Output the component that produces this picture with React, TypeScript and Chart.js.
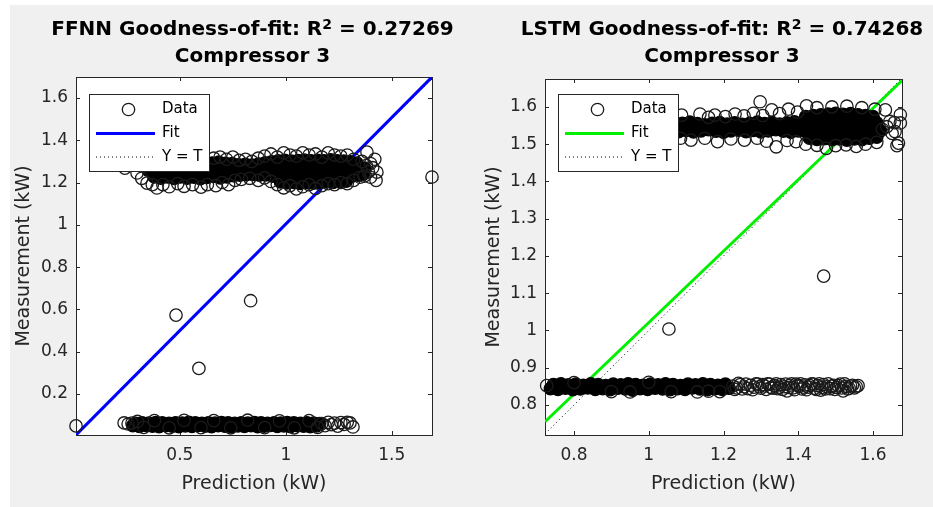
import React, { useEffect, useRef } from 'react';
import { Chart, registerables } from 'chart.js';

Chart.register(...registerables);

// ---------------- data ----------------
type Pt = [number, number];

const FFNN_TITLE_PRE = 'FFNN Goodness-of-fit: R';
const FFNN_TITLE_POST = ' = 0.27269';
const LSTM_TITLE_PRE = 'LSTM Goodness-of-fit: R';
const LSTM_TITLE_POST = ' = 0.74268';
const TITLE_SUP = '2';
const SUBTITLE = 'Compressor 3';
const X_LABEL = 'Prediction (kW)';
const Y_LABEL = 'Measurement (kW)';
const SERIES_LABELS = ['Data', 'Fit', 'Y = T'];

const FFNN_X_RANGE = [0.01, 1.69];
const FFNN_Y_RANGE = [0.006, 1.699];
const FFNN_X_TICKS = [0.5, 1, 1.5];
const FFNN_Y_TICKS = [0.2, 0.4, 0.6, 0.8, 1, 1.2, 1.4, 1.6];

const LSTM_X_RANGE = [0.7225, 1.6775];
const LSTM_Y_RANGE = [0.7195, 1.675];
const LSTM_X_TICKS = [0.8, 1, 1.2, 1.4, 1.6];
const LSTM_Y_TICKS = [0.8, 0.9, 1, 1.1, 1.2, 1.3, 1.4, 1.5, 1.6];

// fit lines (end points) and the Y = T reference line
const FFNN_FIT_X = [0.01, 1.69];
const FFNN_FIT_Y = [0.006, 1.699];
const FFNN_IDENTITY = [0.01, 1.69];
const LSTM_FIT_X = [0.7225, 1.6775];
const LSTM_FIT_Y = [0.755, 1.671];
const LSTM_IDENTITY = [0.7225, 1.6775];

// FFNN: heavily over-plotted upper band (core of the band)
const FFNN_HIGH_DENSE: Pt[] = [
  [0.38,1.226],[0.41,1.221],[0.44,1.227],[0.472,1.219],[0.503,1.226],[0.534,1.221],[0.566,1.225],[0.597,1.218],[0.628,1.224],[0.659,1.229],[0.69,1.222],[0.721,1.227],[0.752,1.232],[0.783,1.235],[0.814,1.237],[0.845,1.238],[0.876,1.235],[0.907,1.236],[0.938,1.23],[0.969,1.224],[1.0,1.218],[1.031,1.221],[1.062,1.215],[1.093,1.219],[1.124,1.222],[1.155,1.217],[1.186,1.221],[1.217,1.226],[1.248,1.222],[1.279,1.227],[1.31,1.229],[1.341,1.235],[1.366,1.24],
  [0.35,1.258],[0.381,1.265],[0.412,1.26],[0.443,1.266],[0.474,1.259],[0.505,1.264],[0.536,1.261],[0.567,1.267],[0.598,1.26],[0.629,1.263],[0.66,1.266],[0.691,1.26],[0.722,1.265],[0.753,1.268],[0.784,1.27],[0.815,1.266],[0.846,1.271],[0.877,1.268],[0.908,1.272],[0.939,1.266],[0.97,1.262],[1.001,1.259],[1.032,1.264],[1.063,1.26],[1.094,1.263],[1.125,1.258],[1.156,1.262],[1.187,1.265],[1.218,1.259],[1.249,1.263],[1.28,1.261],[1.311,1.266],[1.342,1.262],[1.372,1.268],
  [0.652,1.292],[0.684,1.296],[0.715,1.291],[0.747,1.289],[0.778,1.284],[0.809,1.286],[0.84,1.282],[0.871,1.287],[0.902,1.293],[0.933,1.298],[0.964,1.302],[0.995,1.305],[1.026,1.301],[1.057,1.304],[1.088,1.306],[1.119,1.303],[1.15,1.305],[1.181,1.302],[1.212,1.307],[1.243,1.303],[1.274,1.301],[1.305,1.298],[1.336,1.292],
  [0.975,1.203],[1.005,1.198],[1.037,1.2],[1.068,1.196],[1.099,1.201],[1.13,1.197],[1.161,1.199],[1.192,1.203],[1.223,1.2],[1.254,1.204],[1.285,1.206],
];
// FFNN: individual circles around the edge of the upper band
const FFNN_HIGH_SPREAD: Pt[] = [
  [0.241,1.268],[0.298,1.245],[0.32,1.22],[0.345,1.197],[0.37,1.19],[0.392,1.174],[0.42,1.19],[0.45,1.18],[0.49,1.195],[0.52,1.182],[0.56,1.19],[0.6,1.178],[0.63,1.19],[0.67,1.185],[0.7,1.2],[0.73,1.19],[0.76,1.21],[0.79,1.215],[0.83,1.22],[0.87,1.21],[0.9,1.222],[0.93,1.205],[0.96,1.19],[0.99,1.175],[1.02,1.185],[1.05,1.17],[1.08,1.18],[1.11,1.19],[1.14,1.172],[1.17,1.185],[1.2,1.195],[1.23,1.19],[1.26,1.2],[1.29,1.195],[1.32,1.21],[1.35,1.225],
  [0.66,1.315],[0.69,1.32],[0.72,1.31],[0.75,1.32],[0.78,1.305],[0.81,1.31],[0.84,1.3],[0.87,1.315],[0.9,1.325],[0.93,1.335],[0.96,1.32],[0.99,1.34],[1.02,1.33],[1.05,1.325],[1.08,1.34],[1.11,1.33],[1.14,1.335],[1.17,1.32],[1.2,1.34],[1.23,1.33],[1.26,1.325],[1.29,1.33],[1.32,1.31],[1.383,1.344],
  [1.36,1.3],[1.38,1.28],[1.4,1.29],[1.39,1.25],[1.41,1.27],[1.43,1.249],[1.426,1.21],[1.4,1.225],[1.42,1.31],[1.37,1.23],
];
// FFNN: over-plotted lower band
const FFNN_LOW_DENSE: Pt[] = [
  [0.278,0.05],[0.309,0.047],[0.34,0.051],[0.371,0.048],[0.402,0.046],[0.433,0.05],[0.464,0.048],[0.495,0.045],[0.526,0.049],[0.557,0.047],[0.588,0.051],[0.619,0.048],[0.65,0.046],[0.681,0.05],[0.712,0.048],[0.743,0.045],[0.774,0.049],[0.805,0.047],[0.836,0.05],[0.867,0.046],[0.898,0.048],[0.929,0.051],[0.96,0.047],[0.991,0.049],[1.022,0.046],[1.053,0.05],[1.084,0.048],[1.115,0.045],[1.146,0.049],
  [0.29,0.061],[0.322,0.064],[0.354,0.062],[0.386,0.065],[0.417,0.063],[0.449,0.061],[0.48,0.064],[0.511,0.062],[0.542,0.066],[0.573,0.063],[0.604,0.061],[0.635,0.064],[0.666,0.062],[0.697,0.065],[0.728,0.063],[0.759,0.061],[0.79,0.064],[0.821,0.062],[0.852,0.065],[0.883,0.063],[0.914,0.061],[0.945,0.064],[0.976,0.062],[1.007,0.065],[1.038,0.063],[1.069,0.061],[1.1,0.064],[1.131,0.062],[1.16,0.06],
];
const FFNN_LOW_SPREAD: Pt[] = [
  [0.237,0.063],[0.256,0.058],[0.274,0.062],[0.3,0.07],[0.33,0.042],[0.38,0.074],[0.45,0.04],[0.52,0.075],[0.6,0.041],[0.66,0.074],[0.74,0.04],[0.82,0.076],[0.9,0.041],[0.97,0.073],[1.04,0.04],[1.11,0.074],[1.15,0.042],[1.17,0.06],[1.185,0.05],[1.2,0.066],[1.215,0.055],[1.23,0.062],[1.245,0.048],[1.26,0.065],[1.275,0.056],[1.29,0.066],[1.303,0.063],[1.317,0.044],
];
const FFNN_OUTLIERS: Pt[] = [[0.01,0.049],[0.482,0.573],[0.59,0.321],[0.834,0.641],[1.69,1.226]];

// LSTM: over-plotted upper band
const LSTM_HIGH_DENSE: Pt[] = [
  [0.98,1.534],[1.0,1.537],[1.02,1.533],[1.04,1.536],[1.06,1.538],[1.08,1.534],[1.1,1.537],[1.12,1.533],[1.14,1.536],[1.16,1.539],[1.18,1.535],[1.2,1.532],[1.22,1.536],[1.24,1.538],[1.26,1.534],[1.28,1.537],[1.3,1.533],[1.32,1.536],[1.34,1.539],[1.36,1.535],[1.38,1.532],[1.4,1.536],[1.42,1.534],[1.44,1.531],[1.46,1.535],[1.48,1.532],[1.5,1.534],[1.52,1.53],[1.54,1.533],[1.56,1.531],[1.58,1.535],[1.6,1.532],[1.62,1.536],
  [0.99,1.555],[1.01,1.558],[1.03,1.554],[1.05,1.557],[1.07,1.553],[1.09,1.556],[1.11,1.559],[1.13,1.555],[1.15,1.552],[1.17,1.556],[1.19,1.558],[1.21,1.554],[1.23,1.557],[1.25,1.553],[1.27,1.556],[1.29,1.559],[1.31,1.555],[1.33,1.558],[1.35,1.554],[1.37,1.557],[1.39,1.56],[1.41,1.558],[1.43,1.561],[1.45,1.558],[1.47,1.562],[1.49,1.559],[1.51,1.563],[1.53,1.56],[1.55,1.562],[1.57,1.558],[1.59,1.561],[1.61,1.557],
  [1.43,1.516],[1.45,1.513],[1.47,1.515],[1.49,1.512],[1.51,1.514],[1.53,1.511],[1.55,1.514],[1.57,1.512],[1.59,1.516],[1.61,1.519],
  [1.42,1.574],[1.44,1.577],[1.46,1.579],[1.48,1.581],[1.5,1.583],[1.52,1.58],[1.54,1.582],[1.56,1.579],[1.58,1.577],[1.6,1.574],
];
const LSTM_HIGH_SPREAD: Pt[] = [
  [1.0,1.575],[1.04,1.58],[1.088,1.578],[1.137,1.581],[1.16,1.572],[1.177,1.578],[1.205,1.574],[1.231,1.581],[1.255,1.576],[1.28,1.583],[1.305,1.577],[1.329,1.592],[1.35,1.582],[1.374,1.594],[1.398,1.586],[1.422,1.603],[1.45,1.598],[1.49,1.6],[1.53,1.602],[1.57,1.598],[1.605,1.594],
  [1.0,1.518],[1.05,1.513],[1.085,1.516],[1.113,1.511],[1.15,1.516],[1.184,1.507],[1.22,1.514],[1.256,1.511],[1.29,1.516],[1.315,1.508],[1.341,1.493],[1.37,1.51],[1.394,1.507],[1.42,1.5],[1.45,1.497],[1.475,1.489],[1.5,1.496],[1.528,1.498],[1.555,1.494],[1.58,1.5],[1.61,1.505],
  [1.625,1.54],[1.633,1.592],[1.637,1.547],[1.645,1.561],[1.651,1.529],[1.657,1.558],[1.659,1.534],[1.664,1.496],[1.668,1.503],[1.673,1.557],[1.673,1.579],
];
// LSTM: lower band
const LSTM_LOW_DENSE: Pt[] = [
  [0.737,0.844],[0.757,0.842],[0.777,0.845],[0.797,0.841],[0.817,0.843],[0.837,0.846],[0.857,0.842],[0.877,0.844],[0.897,0.841],[0.917,0.845],[0.937,0.843],[0.957,0.84],[0.977,0.844],[0.997,0.842],[1.017,0.845],[1.037,0.843],[1.057,0.841],[1.077,0.844],[1.097,0.842],[1.117,0.846],[1.137,0.843],[1.157,0.841],[1.177,0.844],[1.197,0.842],[1.215,0.845],
  [0.745,0.855],[0.765,0.857],[0.785,0.854],[0.805,0.856],[0.825,0.853],[0.845,0.857],[0.865,0.855],[0.885,0.852],[0.905,0.856],[0.925,0.854],[0.945,0.857],[0.965,0.855],[0.985,0.853],[1.005,0.856],[1.025,0.854],[1.045,0.857],[1.065,0.855],[1.085,0.852],[1.105,0.856],[1.125,0.854],[1.145,0.857],[1.165,0.855],[1.185,0.853],[1.205,0.856],
];
const LSTM_LOW_SPREAD: Pt[] = [
  [0.727,0.852],[0.8,0.86],[0.9,0.836],[0.95,0.835],[1.0,0.861],[1.06,0.836],[1.13,0.835],[1.16,0.837],[1.19,0.836],
  [1.225,0.851],[1.235,0.846],[1.245,0.855],[1.255,0.849],[1.265,0.844],[1.272,0.853],[1.282,0.848],[1.292,0.856],[1.3,0.845],[1.31,0.851],[1.318,0.857],[1.327,0.847],[1.336,0.852],[1.345,0.844],[1.353,0.855],[1.362,0.849],[1.37,0.838],[1.378,0.853],[1.386,0.846],[1.394,0.856],[1.402,0.85],[1.41,0.843],[1.418,0.854],[1.427,0.848],[1.436,0.857],[1.444,0.845],[1.452,0.852],[1.46,0.84],[1.468,0.855],[1.476,0.849],[1.485,0.844],[1.494,0.853],[1.503,0.847],[1.512,0.856],[1.52,0.838],[1.528,0.85],[1.536,0.845],[1.545,0.853],[1.555,0.849],
  [1.23,0.842],[1.24,0.858],[1.25,0.843],[1.26,0.856],[1.278,0.841],[1.287,0.857],[1.296,0.849],[1.305,0.855],[1.314,0.842],[1.323,0.856],[1.332,0.845],[1.341,0.857],[1.349,0.848],[1.358,0.842],[1.366,0.856],[1.374,0.847],[1.382,0.857],[1.39,0.841],[1.398,0.853],[1.406,0.857],[1.414,0.848],[1.422,0.841],[1.431,0.852],[1.44,0.856],[1.448,0.842],[1.456,0.857],[1.464,0.847],[1.472,0.843],[1.48,0.857],[1.489,0.85],[1.498,0.842],[1.507,0.852],[1.516,0.846],[1.524,0.857],[1.532,0.843],[1.54,0.851],[1.55,0.846],[1.56,0.852],
];
const LSTM_OUTLIERS: Pt[] = [[1.054,1.004],[1.468,1.146],[1.298,1.614]];

// ---------------- styling / layout ----------------
const FONT = '"DejaVu Sans", "Liberation Sans", Arial, sans-serif';
const AXIS_COLOR = '#262626';
const MARKER_COLOR = '#1a1a1a';
const CANVAS_H = 507;
const POINT_R = 6.2;
const MARKER_LW = 1.3;

interface Panel {
  titlePre: string; titlePost: string;
  xRange: number[]; yRange: number[]; xTicks: number[]; yTicks: number[];
  dense: Pt[]; spread: Pt[];
  fitX: number[]; fitY: number[]; identity: number[];
  fitColor: string;
  width: number; padLeft: number; padTop: number; padRight: number; yAxisW: number;
  legendDx: number; legendDy: number;
}

const PANELS: Panel[] = [
  {
    titlePre: FFNN_TITLE_PRE, titlePost: FFNN_TITLE_POST,
    xRange: FFNN_X_RANGE, yRange: FFNN_Y_RANGE, xTicks: FFNN_X_TICKS, yTicks: FFNN_Y_TICKS,
    dense: [...FFNN_HIGH_DENSE, ...FFNN_LOW_DENSE],
    spread: [...FFNN_HIGH_SPREAD, ...FFNN_LOW_SPREAD, ...FFNN_OUTLIERS],
    fitX: FFNN_FIT_X, fitY: FFNN_FIT_Y, identity: FFNN_IDENTITY,
    fitColor: '#0000ff',
    width: 466, padLeft: 13, padTop: 77, padRight: 34, yAxisW: 63,
    legendDx: 13, legendDy: 17,
  },
  {
    titlePre: LSTM_TITLE_PRE, titlePost: LSTM_TITLE_POST,
    xRange: LSTM_X_RANGE, yRange: LSTM_Y_RANGE, xTicks: LSTM_X_TICKS, yTicks: LSTM_Y_TICKS,
    dense: [...LSTM_HIGH_DENSE, ...LSTM_LOW_DENSE],
    spread: [...LSTM_HIGH_SPREAD, ...LSTM_LOW_SPREAD, ...LSTM_OUTLIERS],
    fitX: LSTM_FIT_X, fitY: LSTM_FIT_Y, identity: LSTM_IDENTITY,
    fitColor: '#00f000',
    width: 467, padLeft: 17, padTop: 79, padRight: 31, yAxisW: 62,
    legendDx: 13, legendDy: 15,
  },
];

function buildChart(canvas: HTMLCanvasElement, p: Panel) {
  const framePlugin = {
    id: 'matlabFrame',
    beforeDraw(chart: any) {
      const { ctx, chartArea: a } = chart;
      ctx.save();
      ctx.fillStyle = '#ffffff';
      ctx.fillRect(a.left, a.top, a.right - a.left + 1, a.bottom - a.top + 1);
      ctx.restore();
    },
    beforeDatasetsDraw(chart: any) {
      const { ctx, chartArea: a, scales } = chart;
      const tl = 4;
      ctx.save();
      ctx.strokeStyle = AXIS_COLOR;
      ctx.lineWidth = 1;
      ctx.beginPath();
      for (const t of scales.x.ticks) {
        const px = Math.round(scales.x.getPixelForValue(t.value)) + 0.5;
        ctx.moveTo(px, a.bottom); ctx.lineTo(px, a.bottom - tl);
        ctx.moveTo(px, a.top); ctx.lineTo(px, a.top + tl);
      }
      for (const t of scales.y.ticks) {
        const py = Math.round(scales.y.getPixelForValue(t.value)) + 0.5;
        ctx.moveTo(a.left, py); ctx.lineTo(a.left + tl, py);
        ctx.moveTo(a.right, py); ctx.lineTo(a.right - tl, py);
      }
      ctx.stroke();
      ctx.strokeRect(a.left + 0.5, a.top + 0.5, a.right - a.left, a.bottom - a.top);
      ctx.restore();
    },
  };

  const legendPlugin = {
    id: 'matlabLegend',
    afterDraw(chart: any) {
      const { ctx, chartArea: a } = chart;
      const bl = a.left + p.legendDx;
      const bt = a.top + p.legendDy;
      const ds = chart.data.datasets;
      ctx.save();
      ctx.fillStyle = '#ffffff';
      ctx.fillRect(bl, bt, 120, 77);
      ctx.strokeStyle = AXIS_COLOR;
      ctx.lineWidth = 1;
      ctx.strokeRect(bl + 0.5, bt + 0.5, 120, 77);
      const rows = [bt + 15.5, bt + 39.5, bt + 63];
      ctx.beginPath();
      ctx.arc(bl + 39.5, rows[0], POINT_R, 0, Math.PI * 2);
      ctx.strokeStyle = MARKER_COLOR;
      ctx.lineWidth = MARKER_LW;
      ctx.stroke();
      ctx.beginPath();
      ctx.moveTo(bl + 7, rows[1]); ctx.lineTo(bl + 66, rows[1]);
      ctx.strokeStyle = ds[1].borderColor;
      ctx.lineWidth = ds[1].borderWidth;
      ctx.stroke();
      ctx.beginPath();
      ctx.setLineDash(ds[2].borderDash);
      ctx.moveTo(bl + 7, rows[2]); ctx.lineTo(bl + 64, rows[2]);
      ctx.strokeStyle = ds[2].borderColor;
      ctx.lineWidth = ds[2].borderWidth;
      ctx.stroke();
      ctx.setLineDash([]);
      ctx.fillStyle = '#000000';
      ctx.font = `15px ${FONT}`;
      ctx.textBaseline = 'middle';
      ctx.textAlign = 'left';
      for (let i = 0; i < 3; i++) ctx.fillText(ds[i].label, bl + 73, rows[i]);
      ctx.restore();
    },
  };

  const titlePlugin = {
    id: 'matlabTitle',
    afterDraw(chart: any) {
      const { ctx, chartArea: a } = chart;
      const cx = (a.left + a.right) / 2 - 1.5;
      ctx.save();
      ctx.fillStyle = '#000000';
      ctx.textBaseline = 'alphabetic';
      ctx.textAlign = 'left';
      const big = `bold 20px ${FONT}`;
      const small = `bold 14px ${FONT}`;
      ctx.font = big;
      const w1 = ctx.measureText(p.titlePre).width;
      const w3 = ctx.measureText(p.titlePost).width;
      ctx.font = small;
      const w2 = ctx.measureText(TITLE_SUP).width;
      const x0 = cx - (w1 + w2 + w3) / 2;
      ctx.font = big;
      ctx.fillText(p.titlePre, x0, 35);
      ctx.font = small;
      ctx.fillText(TITLE_SUP, x0 + w1, 28.5);
      ctx.font = big;
      ctx.fillText(p.titlePost, x0 + w1 + w2, 35);
      ctx.textAlign = 'center';
      ctx.fillText(SUBTITLE, cx, 62);
      ctx.restore();
    },
  };

  const markerBase = {
    showLine: false,
    pointStyle: 'circle',
    pointRadius: POINT_R,
    pointHoverRadius: POINT_R,
    pointBorderWidth: MARKER_LW,
    pointHoverBorderWidth: MARKER_LW,
    clip: false,
  };

  return new Chart(canvas, {
    type: 'scatter',
    data: {
      datasets: [
        {
          ...markerBase,
          label: SERIES_LABELS[0],
          data: p.spread.map(([x, y]) => ({ x, y })),
          borderColor: MARKER_COLOR,
          backgroundColor: 'rgba(0,0,0,0)',
          pointBorderColor: MARKER_COLOR,
          pointBackgroundColor: 'rgba(0,0,0,0)',
          order: 0,
        },
        {
          label: SERIES_LABELS[1],
          data: p.fitX.map((x, i) => ({ x, y: p.fitY[i] })),
          showLine: true,
          borderColor: p.fitColor,
          backgroundColor: p.fitColor,
          borderWidth: 3,
          pointRadius: 0,
          pointHoverRadius: 0,
          order: 2,
        },
        {
          label: SERIES_LABELS[2],
          data: p.identity.map((v) => ({ x: v, y: v })),
          showLine: true,
          borderColor: '#000000',
          backgroundColor: '#000000',
          borderWidth: 1,
          borderDash: [1, 3],
          pointRadius: 0,
          pointHoverRadius: 0,
          order: 3,
        },
        {
          ...markerBase,
          label: SERIES_LABELS[0],
          data: p.dense.map(([x, y]) => ({ x, y })),
          borderColor: '#000000',
          backgroundColor: '#000000',
          pointBorderColor: '#000000',
          pointBackgroundColor: '#000000',
          order: 1,
        },
      ],
    },
    options: {
      responsive: false,
      animation: false,
      devicePixelRatio: 1,
      events: [],
      layout: { padding: { left: p.padLeft, top: p.padTop, right: p.padRight, bottom: 12 } },
      plugins: { legend: { display: false }, title: { display: false }, tooltip: { enabled: false } },
      scales: {
        x: {
          type: 'linear',
          position: 'bottom',
          min: p.xRange[0],
          max: p.xRange[1],
          afterBuildTicks: (s: any) => { s.ticks = p.xTicks.map((v) => ({ value: v })); },
          afterFit: (s: any) => { s.height = 60; },
          grid: { display: false, drawTicks: false },
          border: { display: false },
          ticks: {
            autoSkip: false, maxRotation: 0, minRotation: 0, padding: 10,
            color: AXIS_COLOR, font: { family: FONT, size: 17 },
            callback: (v: any) => String(v),
          },
          title: {
            display: true, text: X_LABEL, color: AXIS_COLOR,
            font: { family: FONT, size: 19 }, padding: { top: 0, bottom: 0 },
          },
        },
        y: {
          type: 'linear',
          position: 'left',
          min: p.yRange[0],
          max: p.yRange[1],
          afterBuildTicks: (s: any) => { s.ticks = p.yTicks.map((v) => ({ value: v })); },
          afterFit: (s: any) => { s.width = p.yAxisW; },
          grid: { display: false, drawTicks: false },
          border: { display: false },
          ticks: {
            autoSkip: false, padding: 8,
            color: AXIS_COLOR, font: { family: FONT, size: 17 },
            callback: (v: any) => String(v),
          },
          title: {
            display: true, text: Y_LABEL, color: AXIS_COLOR,
            font: { family: FONT, size: 19 }, padding: { top: 0, bottom: 0 },
          },
        },
      },
    },
    plugins: [framePlugin, legendPlugin, titlePlugin],
  } as any);
}

export default function App() {
  const leftRef = useRef<HTMLCanvasElement>(null);
  const rightRef = useRef<HTMLCanvasElement>(null);

  useEffect(() => {
    const charts = [
      buildChart(leftRef.current as HTMLCanvasElement, PANELS[0]),
      buildChart(rightRef.current as HTMLCanvasElement, PANELS[1]),
    ];
    return () => charts.forEach((c) => c.destroy());
  }, []);

  return (
    <div style={{ position: 'absolute', left: 0, top: 0, width: 933, height: CANVAS_H, background: '#ffffff', overflow: 'hidden' }}>
      <div style={{ position: 'absolute', left: 10, top: 5, width: 923, height: 502, background: '#f0f0f0' }} />
      <canvas
        ref={leftRef}
        width={PANELS[0].width}
        height={CANVAS_H}
        style={{ position: 'absolute', left: 0, top: 0, width: PANELS[0].width, height: CANVAS_H }}
      />
      <canvas
        ref={rightRef}
        width={PANELS[1].width}
        height={CANVAS_H}
        style={{ position: 'absolute', left: PANELS[0].width, top: 0, width: PANELS[1].width, height: CANVAS_H }}
      />
    </div>
  );
}
